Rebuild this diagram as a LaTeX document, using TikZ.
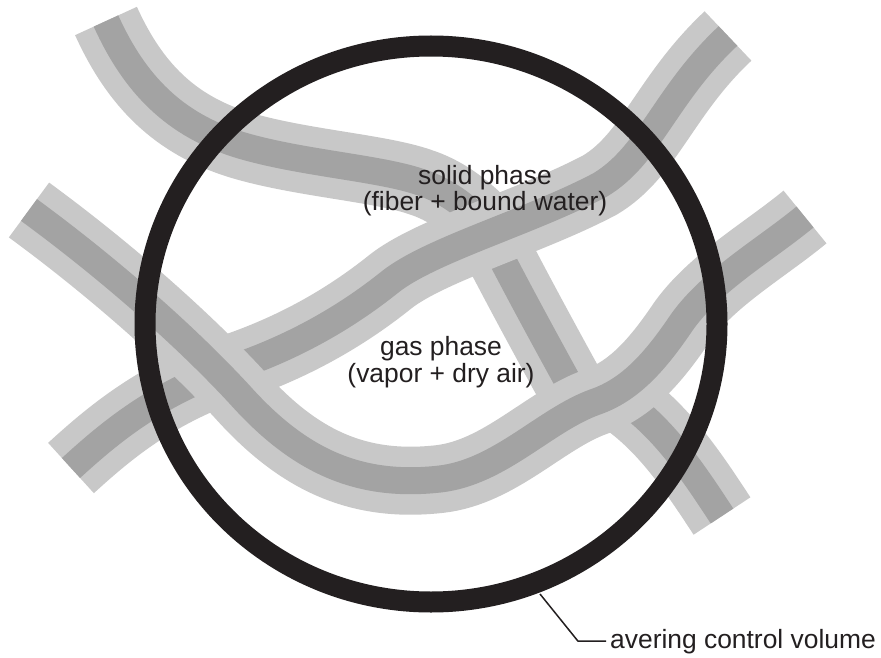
\documentclass[tikz,border=0pt]{standalone}
\usepackage{fontspec}
\setmainfont{Liberation Sans}
\definecolor{fiberlight}{HTML}{C8C8C8}
\definecolor{fibercore}{HTML}{A3A3A3}
\definecolor{ink}{HTML}{231F20}
\begin{document}
\begin{tikzpicture}[x=1pt,y=-1pt,
  fiber/.style={draw=fibercore,line width=27pt,line cap=butt,
    preaction={draw=fiberlight,line width=68pt,line cap=butt}},
  phase/.style={anchor=base,inner sep=0pt,text=ink,font=\fontsize{26.4}{30}\selectfont},
  volume/.style={draw=ink,line width=21pt},
  leader/.style={draw=ink,line width=1.5pt}]
\useasboundingbox[fill=white] (0,0) rectangle (881,658);

% fiber running in from the top left and joining the long fiber
\draw[fiber] (106,21) .. controls (135,85) and (175,125) .. (240,145)
  .. controls (300,163) and (380,168) .. (420,182)
  .. controls (445,190) and (465,205) .. (485,225);
% short bridge between the two long fibers
\draw[fiber] (488,232) .. controls (515,285) and (545,340) .. (578,400);
% branch leaving the lower fiber towards the bottom right
\draw[fiber] (610,392) .. controls (660,420) and (695,475) .. (722,516);
% long fiber from the lower left to the top right
\draw[fiber] (71,468) .. controls (105,437) and (150,398) .. (220,372)
  .. controls (290,350) and (345,318) .. (390,282)
  .. controls (430,250) and (530,222) .. (600,185)
  .. controls (650,155) and (665,95) .. (728,36);
% long fiber from the upper left to the right
\draw[fiber] (29,210) .. controls (100,262) and (180,330) .. (240,395)
  .. controls (300,462) and (360,488) .. (440,479)
  .. controls (500,472) and (545,420) .. (595,402)
  .. controls (630,390) and (655,362) .. (682,322)
  .. controls (712,280) and (765,250) .. (805,217);

% averaging control volume
\draw[volume] (431,324) ellipse [x radius=286, y radius=278];

% phase labels
\node[phase] (solidA) at (485,185) {solid phase};
\node[phase] (solidB) at (485,211) {(fiber + bound water)};
\node[phase] (gasA) at (441,355) {gas phase};
\node[phase] (gasB) at (441,382) {(vapor + dry air)};

% leader to the control volume
\node[phase,anchor=base west] (vol) at (610,648) {avering control volume};
\coordinate (cv) at (540,594);
\coordinate (bendx) at (578,0);
\coordinate (bend) at (bendx |- vol.west);
\coordinate (tail) at ([xshift=-4pt]vol.west);
\draw[leader] (cv) -- (bend) -- (tail);
\end{tikzpicture}
\end{document}
